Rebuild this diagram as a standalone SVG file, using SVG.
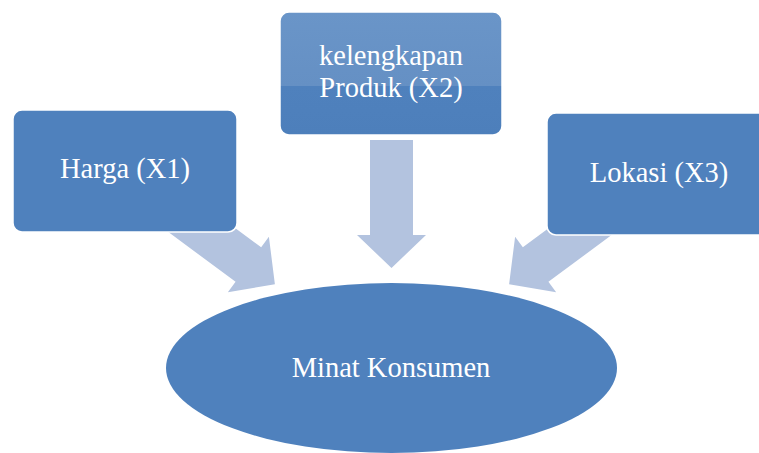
<svg xmlns="http://www.w3.org/2000/svg" width="759" height="453" viewBox="0 0 759 453">
<defs>
<linearGradient id="gloss" x1="0" y1="0" x2="0" y2="1">
<stop offset="0" stop-color="#6a95c8"/>
<stop offset="0.6" stop-color="#6590c4"/>
<stop offset="0.6" stop-color="#4f81bd"/>
<stop offset="1" stop-color="#4d7fbb"/>
</linearGradient>
<path id="arr" d="M0,-21.5 L95,-21.5 L95,-34.5 L128,0 L95,34.5 L95,21.5 L0,21.5 Z"/>
</defs>
<style>
.box{fill:#4f81bd;stroke:#ffffff;stroke-width:1.5}
.arrow{fill:#b3c3df}
.lbl{font-size:28.5px;fill:#ffffff;text-anchor:middle}
</style>
<rect width="759" height="453" fill="#ffffff"/>
<g id="connectors">
<use href="#arr" class="arrow" transform="translate(172,208) rotate(36.5)"/>
<use href="#arr" class="arrow" transform="translate(391.5,140) rotate(90)"/>
<use href="#arr" class="arrow" transform="translate(612,208) rotate(143.5)"/>
</g>
<g id="harga">
<rect class="box" x="13" y="110" width="224" height="122" rx="9"/>
<text class="lbl" font-family="Liberation Serif, serif" x="125" y="178">Harga (X1)</text>
</g>
<g id="produk">
<rect class="box" x="280" y="12" width="222" height="123" rx="9" style="fill:url(#gloss)"/>
<text class="lbl" font-family="Liberation Serif, serif" x="391" y="65">kelengkapan</text>
<text class="lbl" font-family="Liberation Serif, serif" x="391" y="97">Produk (X2)</text>
</g>
<g id="lokasi">
<rect class="box" x="547" y="113" width="224" height="122" rx="9"/>
<text class="lbl" font-family="Liberation Serif, serif" x="659" y="182">Lokasi (X3)</text>
</g>
<g id="minat">
<ellipse cx="391.5" cy="368" rx="225.5" ry="85" fill="#4f81bd"/>
<text class="lbl" font-family="Liberation Serif, serif" x="391" y="377">Minat Konsumen</text>
</g>
</svg>
